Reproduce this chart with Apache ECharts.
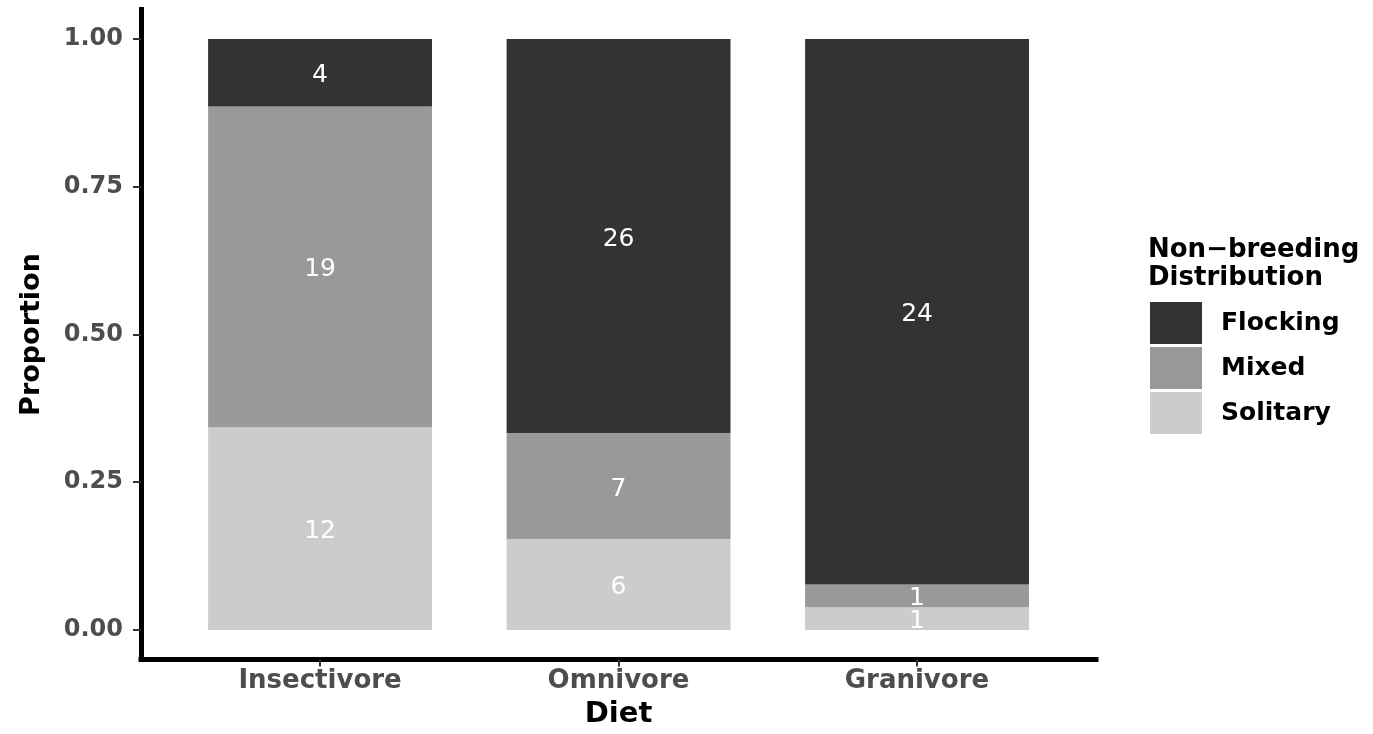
<!DOCTYPE html>
<html>
<head>
<meta charset="utf-8">
<script src="https://cdn.jsdelivr.net/npm/echarts@6/dist/echarts.min.js"></script>
<style>
html,body{margin:0;padding:0;background:#fff;}
#chart{width:1373px;height:734px;}
</style>
</head>
<body>
<div id="chart"></div>
<script>
const categories = ['Insectivore', 'Omnivore', 'Granivore'];
const solitary = [12, 6, 1];
const mixed = [19, 7, 1];
const flocking = [4, 26, 24];
const yTicks = [0, 0.25, 0.5, 0.75, 1];
const seriesNames = ['Flocking', 'Mixed', 'Solitary'];
const colors = { Flocking: '#333333', Mixed: '#999999', Solitary: '#cccccc' };

const totals = categories.map((c, i) => solitary[i] + mixed[i] + flocking[i]);
function build(counts) {
  return counts.map((v, i) => ({ value: v / totals[i], count: v }));
}
const countsByName = { Solitary: solitary, Mixed: mixed, Flocking: flocking };

const stackOrder = ['Solitary', 'Mixed', 'Flocking'];
const series = stackOrder.map(name => ({
  name: name,
  type: 'bar',
  stack: 'total',
  xAxisIndex: 1,
  yAxisIndex: 1,
  barWidth: '75%',
  data: build(countsByName[name]),
  itemStyle: { color: colors[name] },
  label: {
    show: true,
    position: 'inside',
    offset: [0, 3],
    color: '#ffffff',
    fontFamily: 'DejaVu Sans',
    fontSize: 25,
    formatter: p => String(p.data.count)
  },
  emphasis: { disabled: true }
}));

const chart = echarts.init(document.getElementById('chart'), null, { renderer: 'canvas' });
chart.setOption({
  animation: false,
  backgroundColor: '#ffffff',
  title: {
    text: 'Non\u2212breeding\nDistribution',
    left: 1148,
    top: 236,
    padding: 0,
    textStyle: {
      fontFamily: 'DejaVu Sans',
      fontWeight: 'bold',
      fontSize: 26,
      lineHeight: 28,
      color: '#000000'
    }
  },
  legend: {
    data: seriesNames,
    orient: 'vertical',
    left: 1150,
    top: 302,
    padding: 0,
    itemWidth: 52,
    itemHeight: 42,
    itemGap: 3,
    icon: 'rect',
    selectedMode: false,
    itemStyle: { borderWidth: 0 },
    textStyle: {
      fontFamily: 'DejaVu Sans',
      fontWeight: 'bold',
      fontSize: 25,
      color: '#000000',
      padding: [0, 0, 0, 14]
    }
  },
  grid: [
    { left: 141, right: 277, top: 9.5, bottom: 74.5, containLabel: false },
    { left: 170.8, right: 306.7, top: 9.5, bottom: 74.5, containLabel: false }
  ],
  xAxis: [{
    type: 'value',
    gridIndex: 0,
    min: 0.4,
    max: 3.6,
    splitLine: { show: false },
    axisLine: { show: true, onZero: false, lineStyle: { color: '#000000', width: 5, cap: 'square' } },
    axisTick: { show: true, customValues: [1, 2, 3], length: 7, lineStyle: { color: '#333333', width: 2 } },
    axisLabel: {
      customValues: [1, 2, 3],
      formatter: v => categories[Math.round(v) - 1] || '',
      margin: 9,
      fontFamily: 'DejaVu Sans',
      fontWeight: 'bold',
      fontSize: 26,
      color: '#4d4d4d'
    },
    name: 'Diet',
    nameLocation: 'middle',
    nameGap: 40,
    nameTextStyle: { fontFamily: 'DejaVu Sans', fontWeight: 'bold', fontSize: 29, color: '#000000' }
  }, {
    type: 'category',
    gridIndex: 1,
    data: categories,
    show: false
  }],
  yAxis: [{
    type: 'value',
    gridIndex: 0,
    min: -0.05,
    max: 1.05,
    splitLine: { show: false },
    axisLine: { show: true, onZero: false, lineStyle: { color: '#000000', width: 5, cap: 'square' } },
    axisTick: { show: true, customValues: yTicks, length: 8, lineStyle: { color: '#333333', width: 2 } },
    axisLabel: {
      customValues: yTicks,
      formatter: v => v.toFixed(2),
      margin: 18,
      fontFamily: 'DejaVu Sans',
      fontWeight: 'bold',
      fontSize: 24,
      color: '#4d4d4d'
    },
    name: 'Proportion',
    nameLocation: 'middle',
    nameGap: 96,
    nameRotate: 90,
    nameTextStyle: { fontFamily: 'DejaVu Sans', fontWeight: 'bold', fontSize: 27, color: '#000000' }
  }, {
    type: 'value',
    gridIndex: 1,
    min: -0.05,
    max: 1.05,
    show: false
  }],
  series: series
});
</script>
</body>
</html>
